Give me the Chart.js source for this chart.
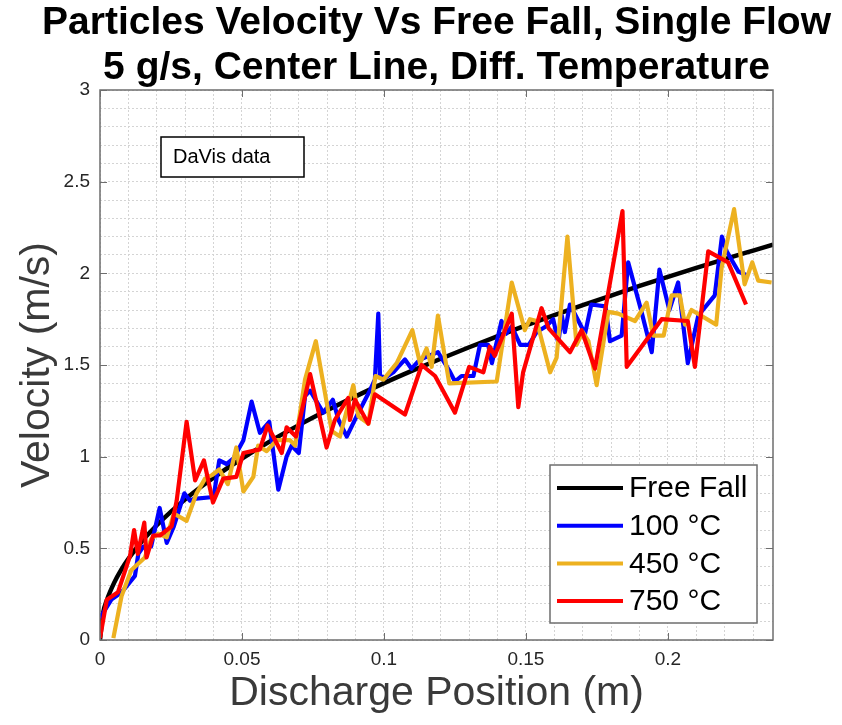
<!DOCTYPE html>
<html>
<head>
<meta charset="utf-8">
<title>Particles Velocity Vs Free Fall</title>
<script src="https://cdn.jsdelivr.net/npm/chart.js@4.4.1/dist/chart.umd.min.js"></script>
<style>
    html, body { margin: 0; padding: 0; background: #ffffff; }
    #wrap { width: 842px; height: 725px; position: relative; }
</style>
</head>
<body>
<div id="wrap"><canvas id="velocityChart" width="842" height="725"></canvas></div>
<script>
// Chart data
const titleLines = ['Particles Velocity Vs Free Fall, Single Flow', '5 g/s, Center Line, Diff. Temperature'];
const xTitle = 'Discharge Position (m)';
const yTitle = 'Velocity (m/s)';
const noteText = 'DaVis data';

const xMajor = [0, 0.05, 0.1, 0.15, 0.2];
const yMajor = [0, 0.5, 1, 1.5, 2, 2.5, 3];

// Free fall reference curve
const ffPos = [0, 0.001, 0.0025, 0.005, 0.0075, 0.01, 0.015, 0.02, 0.025, 0.03, 0.035, 0.04, 0.05, 0.06, 0.07, 0.08, 0.09, 0.10,
    0.11, 0.12, 0.13, 0.14, 0.15, 0.16, 0.17, 0.18, 0.19, 0.20, 0.21, 0.22, 0.23, 0.237];
const ffVel = [0, 0.140, 0.221, 0.313, 0.384, 0.443, 0.543, 0.626, 0.700, 0.767, 0.829, 0.886, 0.990, 1.085, 1.172, 1.253, 1.329, 1.401,
    1.469, 1.534, 1.597, 1.657, 1.716, 1.772, 1.826, 1.879, 1.931, 1.981, 2.030, 2.078, 2.124, 2.156];

// 100 °C
const pos100 = [0, 0.004, 0.0076, 0.0123, 0.0135, 0.0153, 0.018, 0.021, 0.0235, 0.026, 0.0297, 0.0317, 0.033, 0.040, 0.042, 0.0446,
    0.047, 0.0505, 0.0534, 0.0563, 0.0596, 0.0628, 0.0657, 0.0675, 0.070, 0.0722, 0.074, 0.0786, 0.082, 0.084, 0.0869, 0.091,
    0.095, 0.0968, 0.098, 0.0986, 0.1004, 0.1033, 0.105, 0.1074, 0.1097, 0.1127, 0.119, 0.123, 0.125, 0.1273, 0.1315, 0.1338,
    0.1367, 0.138, 0.1414, 0.143, 0.145, 0.148, 0.151, 0.1538, 0.157, 0.1596, 0.1614, 0.1626, 0.1637, 0.1655, 0.1708, 0.173,
    0.178, 0.1796, 0.1837, 0.186, 0.1907, 0.1943, 0.197, 0.2005, 0.2036, 0.207, 0.2107, 0.2165, 0.219, 0.2207, 0.2248, 0.2277];
const vel100 = [0.12, 0.22, 0.26, 0.35, 0.47, 0.51, 0.51, 0.72, 0.53, 0.62, 0.80, 0.76, 0.77, 0.78, 0.98, 0.96,
    0.99, 1.09, 1.30, 1.13, 1.19, 0.82, 1.00, 1.06, 1.02, 1.33, 1.36, 1.24, 1.31, 1.20, 1.11, 1.24,
    1.36, 1.42, 1.78, 1.44, 1.43, 1.46, 1.49, 1.53, 1.48, 1.53, 1.57, 1.47, 1.41, 1.44, 1.44, 1.61,
    1.61, 1.51, 1.74, 1.67, 1.71, 1.61, 1.61, 1.68, 1.71, 1.75, 1.62, 1.77, 1.68, 1.83, 1.67, 1.83,
    1.82, 1.63, 1.66, 2.06, 1.79, 1.57, 2.02, 1.80, 1.95, 1.51, 1.77, 1.88, 2.20, 2.12, 2.01, 1.99];

// 450 °C
const pos450 = [0.0047, 0.0076, 0.011, 0.0158, 0.018, 0.0205, 0.0235, 0.026, 0.0305, 0.034, 0.037, 0.0395, 0.042, 0.045, 0.048,
    0.0505, 0.054, 0.0557, 0.0587, 0.0622, 0.0669, 0.0687, 0.0722, 0.076, 0.0816, 0.0845, 0.0892, 0.091, 0.0945, 0.097, 0.0998,
    0.1045, 0.110, 0.1127, 0.115, 0.1168, 0.119, 0.123, 0.1397, 0.145, 0.1496, 0.1514, 0.1538, 0.1585, 0.1608, 0.1646, 0.1678,
    0.170, 0.172, 0.1749, 0.179, 0.1825, 0.1884, 0.1925, 0.1948, 0.1985, 0.2013, 0.2042, 0.206, 0.2083, 0.217, 0.2189, 0.2233,
    0.227, 0.2297, 0.2318, 0.2365];
const vel450 = [0.01, 0.24, 0.38, 0.45, 0.55, 0.58, 0.56, 0.69, 0.65, 0.80, 0.88, 0.90, 0.93, 0.85, 1.05,
    0.81, 0.89, 1.06, 1.03, 1.09, 1.09, 1.06, 1.42, 1.63, 1.14, 1.11, 1.39, 1.22, 1.18, 1.44, 1.42,
    1.51, 1.69, 1.51, 1.59, 1.49, 1.77, 1.40, 1.41, 1.95, 1.69, 1.75, 1.74, 1.46, 1.54, 2.20, 1.61,
    1.68, 1.63, 1.39, 1.79, 1.78, 1.74, 1.84, 1.66, 1.66, 1.88, 1.88, 1.72, 1.80, 1.72, 2.03, 2.35,
    1.94, 2.06, 1.96, 1.95];

// 750 °C
const pos750 = [0, 0.0024, 0.0063, 0.0106, 0.012, 0.0133, 0.0156, 0.0164, 0.0187, 0.0211, 0.0252, 0.027, 0.0305, 0.0335, 0.0366,
    0.0398, 0.0434, 0.048, 0.0505, 0.0563, 0.059, 0.064, 0.0657, 0.069, 0.074, 0.0798, 0.0827, 0.0874, 0.088, 0.0898, 0.0945,
    0.0968, 0.1074, 0.1133, 0.118, 0.125, 0.130, 0.135, 0.1373, 0.139, 0.145, 0.1473, 0.149, 0.1555, 0.158, 0.1655, 0.1696,
    0.1743, 0.184, 0.1855, 0.1978, 0.207, 0.2095, 0.2142, 0.2212, 0.2275];
const vel750 = [0.01, 0.22, 0.26, 0.46, 0.60, 0.47, 0.64, 0.45, 0.57, 0.57, 0.62, 0.76, 1.19, 0.87, 0.98,
    0.75, 0.88, 0.89, 1.02, 1.04, 1.17, 1.02, 1.16, 1.11, 1.45, 1.05, 1.20, 1.32, 1.20, 1.31, 1.18,
    1.34, 1.23, 1.50, 1.44, 1.24, 1.49, 1.46, 1.60, 1.55, 1.78, 1.27, 1.46, 1.81, 1.70, 1.57, 1.69,
    1.48, 2.34, 1.49, 1.75, 1.74, 1.49, 2.12, 2.06, 1.83];

// Helper to zip position / velocity arrays into points
function toPoints(xs, ys) {
    return xs.map((x, i) => ({ x: x, y: ys[i] }));
}

function isMajor(value, list) {
    return list.some(m => Math.abs(m - value) < 1e-6);
}

const FONT = '"Liberation Sans", Arial, Helvetica, sans-serif';
const AXIS_COLOR = '#6e6e6e';
const TEXT_COLOR = '#262626';

// Titles, note box, axes box and legend drawn on the canvas
const decorPlugin = {
    id: 'decor',
    afterDraw(chart) {
        const ctx = chart.ctx;
        const area = chart.chartArea;
        const xs = chart.scales.x;
        const ys = chart.scales.y;
        const cx = (area.left + area.right) / 2;

        ctx.save();

        // Inward tick marks on all four sides
        ctx.strokeStyle = AXIS_COLOR;
        ctx.lineWidth = 1;
        const tickLen = 7;
        xMajor.forEach(v => {
            const px = Math.round(xs.getPixelForValue(v)) + 0.5;
            ctx.beginPath();
            ctx.moveTo(px, area.bottom); ctx.lineTo(px, area.bottom - tickLen);
            ctx.moveTo(px, area.top); ctx.lineTo(px, area.top + tickLen);
            ctx.stroke();
        });
        yMajor.forEach(v => {
            const py = Math.round(ys.getPixelForValue(v)) + 0.5;
            ctx.beginPath();
            ctx.moveTo(area.left, py); ctx.lineTo(area.left + tickLen, py);
            ctx.moveTo(area.right, py); ctx.lineTo(area.right - tickLen, py);
            ctx.stroke();
        });

        // Axes box
        ctx.lineWidth = 1.5;
        ctx.strokeRect(area.left, area.top, area.right - area.left, area.bottom - area.top);

        // Title (two bold lines centred over the plot area)
        ctx.fillStyle = '#000000';
        ctx.textAlign = 'center';
        ctx.textBaseline = 'middle';
        ctx.font = 'bold 39px ' + FONT;
        ctx.fillText(titleLines[0], cx, 23);
        ctx.fillText(titleLines[1], cx, 68);

        // Axis titles
        ctx.fillStyle = '#3a3a3a';
        ctx.font = '41px ' + FONT;
        ctx.fillText(xTitle, cx, 694);
        ctx.save();
        ctx.translate(38, (area.top + area.bottom) / 2);
        ctx.rotate(-Math.PI / 2);
        ctx.fillText(yTitle, 0, 0);
        ctx.restore();

        // "DaVis data" note box
        ctx.fillStyle = '#ffffff';
        ctx.fillRect(161, 137, 143, 40);
        ctx.strokeStyle = '#000000';
        ctx.lineWidth = 1.5;
        ctx.strokeRect(161, 137, 143, 40);
        ctx.fillStyle = '#000000';
        ctx.textAlign = 'left';
        ctx.font = '20px ' + FONT;
        ctx.fillText(noteText, 173, 157);

        // Legend in the lower right corner
        const lx = 550, ly = 465, lw = 207, lh = 158;
        ctx.fillStyle = '#ffffff';
        ctx.fillRect(lx, ly, lw, lh);
        ctx.strokeStyle = AXIS_COLOR;
        ctx.lineWidth = 1.5;
        ctx.strokeRect(lx, ly, lw, lh);
        ctx.font = '30px ' + FONT;
        ctx.textBaseline = 'middle';
        chart.data.datasets.forEach((ds, i) => {
            const rowY = 488 + i * 37.7;
            ctx.strokeStyle = ds.borderColor;
            ctx.lineWidth = 4;
            ctx.beginPath();
            ctx.moveTo(557, rowY);
            ctx.lineTo(623, rowY);
            ctx.stroke();
            ctx.fillStyle = '#000000';
            ctx.fillText(ds.label, 629, rowY + 1);
        });

        ctx.restore();
    }
};

function buildChart() {
    const ctx = document.getElementById('velocityChart').getContext('2d');

    new Chart(ctx, {
        type: 'line',
        data: {
            datasets: [
                {
                    label: 'Free Fall',
                    data: toPoints(ffPos, ffVel),
                    borderColor: '#000000',
                    borderWidth: 4.5,
                    cubicInterpolationMode: 'monotone',
                    order: 3
                },
                {
                    label: '100 °C',
                    data: toPoints(pos100, vel100),
                    borderColor: '#0000ff',
                    borderWidth: 4.2,
                    order: 2
                },
                {
                    label: '450 °C',
                    data: toPoints(pos450, vel450),
                    borderColor: '#edb120',
                    borderWidth: 4.2,
                    order: 1
                },
                {
                    label: '750 °C',
                    data: toPoints(pos750, vel750),
                    borderColor: '#ff0000',
                    borderWidth: 4.2,
                    order: 0
                }
            ]
        },
        options: {
            responsive: false,
            animation: false,
            events: [],
            elements: {
                point: { radius: 0 },
                line: { tension: 0, borderJoinStyle: 'round', fill: false }
            },
            layout: {
                padding: { top: 90, right: 69, bottom: 0, left: 0 }
            },
            plugins: {
                legend: { display: false },
                title: { display: false },
                tooltip: { enabled: false }
            },
            scales: {
                x: {
                    type: 'linear',
                    min: 0,
                    max: 0.237,
                    afterFit: scale => { scale.height = 85; },
                    border: { display: false, dash: [2, 2] },
                    grid: { color: '#d4d4d4', lineWidth: 1, drawTicks: false },
                    ticks: {
                        stepSize: 0.01,
                        includeBounds: false,
                        autoSkip: false,
                        maxRotation: 0,
                        padding: 8,
                        color: TEXT_COLOR,
                        font: { family: FONT, size: 19 },
                        callback: v => isMajor(v, xMajor) ? String(Math.round(v * 100) / 100) : ''
                    }
                },
                y: {
                    type: 'linear',
                    min: 0,
                    max: 3,
                    afterFit: scale => { scale.width = 100; },
                    border: { display: false, dash: [2, 2] },
                    grid: { color: '#d4d4d4', lineWidth: 1, drawTicks: false },
                    ticks: {
                        stepSize: 0.1,
                        autoSkip: false,
                        padding: 10,
                        color: TEXT_COLOR,
                        font: { family: FONT, size: 19 },
                        callback: v => isMajor(v, yMajor) ? String(Math.round(v * 10) / 10) : ''
                    }
                }
            }
        },
        plugins: [decorPlugin]
    });
}

document.addEventListener('DOMContentLoaded', () => {
    buildChart();
});
</script>
</body>
</html>
